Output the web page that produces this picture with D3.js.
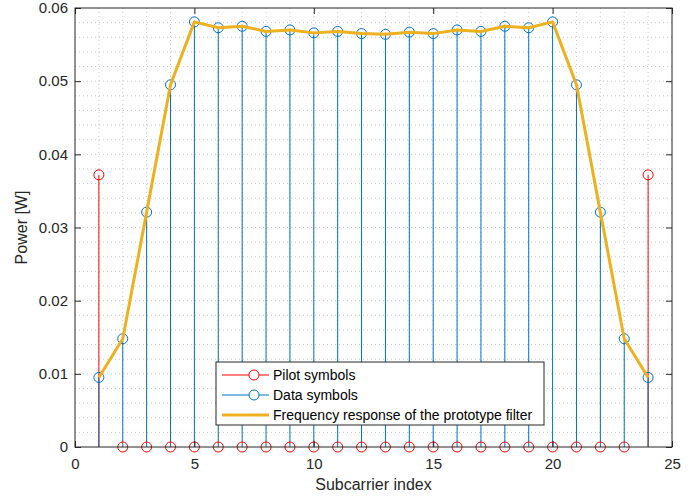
<!DOCTYPE html>
<html>
<head>
<meta charset="utf-8">
<script src="https://cdn.jsdelivr.net/npm/d3@7"></script>
<style>
  body { margin: 0; background: #fff; }
  svg { font-family: "Liberation Sans", Arial, sans-serif; }
</style>
</head>
<body>
<svg id="chart" width="697" height="497"></svg>
<script>
var subcarriers = d3.range(1, 25);
var pilotPower = [0.0372, 0, 0, 0, 0, 0, 0, 0, 0, 0, 0, 0, 0, 0, 0, 0, 0, 0, 0, 0, 0, 0, 0, 0.0372];
var dataPower = [0.0095, 0.0148, 0.0321, 0.0495, 0.0581, 0.0573, 0.0575, 0.0568, 0.0570, 0.0566, 0.0568, 0.0565,
                 0.0564, 0.0567, 0.0565, 0.0570, 0.0568, 0.0575, 0.0573, 0.0581, 0.0495, 0.0321, 0.0148, 0.0095];
var filterResponse = dataPower.slice();
var xTicks = [0, 5, 10, 15, 20, 25];
var yTicks = [0, 0.01, 0.02, 0.03, 0.04, 0.05, 0.06];
var legendLabels = ["Pilot symbols", "Data symbols", "Frequency response of the prototype filter"];

var svg = d3.select("#chart");
var plotL = 75, plotR = 672, plotT = 8, plotB = 447;
var axisColor = "#262626";
var blue = "#0072BD", red = "#FF0000", yellow = "#EDB120";

var x = d3.scaleLinear().domain([0, 25]).range([plotL, plotR]);
var y = d3.scaleLinear().domain([0, 0.06]).range([plotB, plotT]);

// grid (all dotted, like the original)
var grid = svg.append("g");
grid.selectAll("line.vx").data(d3.range(1, 25)).enter().append("line")
  .attr("x1", function(d) { return x(d); }).attr("x2", function(d) { return x(d); })
  .attr("y1", plotT).attr("y2", plotB)
  .attr("stroke", "#c8c8c8").attr("stroke-width", 1).attr("stroke-dasharray", "1,3");
grid.selectAll("line.hy").data(d3.range(1, 30).map(function(i) { return i * 0.002; })).enter().append("line")
  .attr("y1", function(d) { return y(d); }).attr("y2", function(d) { return y(d); })
  .attr("x1", plotL).attr("x2", plotR)
  .attr("stroke", "#c8c8c8").attr("stroke-width", 1).attr("stroke-dasharray", "1,3");

// stems
var pilots = subcarriers.map(function(s, i) { return {x: s, v: pilotPower[i]}; });
var datas = subcarriers.map(function(s, i) { return {x: s, v: dataPower[i]}; });

var stems = svg.append("g");
stems.selectAll("line.p").data(pilots).enter().append("line")
  .attr("x1", function(d) { return x(d.x); }).attr("x2", function(d) { return x(d.x); })
  .attr("y1", y(0)).attr("y2", function(d) { return y(d.v); })
  .attr("stroke", red).attr("stroke-width", 1);
stems.selectAll("line.d").data(datas).enter().append("line")
  .attr("x1", function(d) { return x(d.x); }).attr("x2", function(d) { return x(d.x); })
  .attr("y1", y(0)).attr("y2", function(d) { return y(d.v); })
  .attr("stroke", blue).attr("stroke-width", 1);

stems.selectAll("circle.p").data(pilots).enter().append("circle")
  .attr("cx", function(d) { return x(d.x); }).attr("cy", function(d) { return y(d.v); })
  .attr("r", 5).attr("fill", "none").attr("stroke", red).attr("stroke-width", 1);
stems.selectAll("circle.d").data(datas).enter().append("circle")
  .attr("cx", function(d) { return x(d.x); }).attr("cy", function(d) { return y(d.v); })
  .attr("r", 5).attr("fill", "none").attr("stroke", blue).attr("stroke-width", 1);

// filter response
var line = d3.line().x(function(d, i) { return x(subcarriers[i]); }).y(function(d) { return y(d); });
svg.append("path").datum(filterResponse)
  .attr("d", line).attr("fill", "none")
  .attr("stroke", yellow).attr("stroke-width", 3).attr("stroke-linejoin", "round");

// axes with inner ticks, box
function styleAxis(g) {
  g.select(".domain").remove();
  g.selectAll(".tick line").attr("stroke", axisColor);
  g.selectAll(".tick text").attr("fill", axisColor).style("font-size", "15px")
    .style("font-family", "Liberation Sans, Arial, sans-serif");
}
svg.append("g").attr("transform", "translate(0," + plotB + ")")
  .call(d3.axisBottom(x).tickValues(xTicks).tickFormat(d3.format("d")).tickSizeInner(-6).tickPadding(11))
  .call(styleAxis);
svg.append("g").attr("transform", "translate(0," + plotT + ")")
  .call(d3.axisTop(x).tickValues(xTicks).tickFormat("").tickSizeInner(-6))
  .call(styleAxis);
svg.append("g").attr("transform", "translate(" + plotL + ",0)")
  .call(d3.axisLeft(y).tickValues(yTicks).tickFormat(function(d) { return d === 0 ? "0" : d3.format(".2f")(d); })
    .tickSizeInner(-6).tickPadding(7))
  .call(styleAxis);
svg.append("g").attr("transform", "translate(" + plotR + ",0)")
  .call(d3.axisRight(y).tickValues(yTicks).tickFormat("").tickSizeInner(-6))
  .call(styleAxis);

svg.append("rect").attr("x", plotL).attr("y", plotT).attr("width", plotR - plotL).attr("height", plotB - plotT)
  .attr("fill", "none").attr("stroke", axisColor).attr("stroke-width", 1);

// axis labels
svg.append("text").attr("x", (plotL + plotR) / 2).attr("y", 490)
  .attr("text-anchor", "middle").attr("fill", axisColor).style("font-size", "16px")
  .text("Subcarrier index");
svg.append("text").attr("transform", "translate(27," + ((plotT + plotB) / 2) + ") rotate(-90)")
  .attr("text-anchor", "middle").attr("fill", axisColor).style("font-size", "16px")
  .text("Power [W]");

// legend
var lg = svg.append("g").attr("transform", "translate(216,362)");
lg.append("rect").attr("width", 328).attr("height", 63)
  .attr("fill", "#fff").attr("stroke", axisColor).attr("stroke-width", 1);
var legendStyles = [
  {color: red, width: 1, marker: true},
  {color: blue, width: 1, marker: true},
  {color: yellow, width: 3, marker: false}
];
legendLabels.forEach(function(label, i) {
  var cy = 13 + i * 20;
  var st = legendStyles[i];
  lg.append("line").attr("x1", 6).attr("x2", 53).attr("y1", cy).attr("y2", cy)
    .attr("stroke", st.color).attr("stroke-width", st.width);
  if (st.marker) {
    lg.append("circle").attr("cx", 38).attr("cy", cy).attr("r", 5)
      .attr("fill", "#fff").attr("stroke", st.color).attr("stroke-width", 1);
  }
  lg.append("text").attr("x", 57).attr("y", cy + 5).attr("fill", "#000")
    .style("font-size", "14px").text(label);
});
</script>
</body>
</html>
